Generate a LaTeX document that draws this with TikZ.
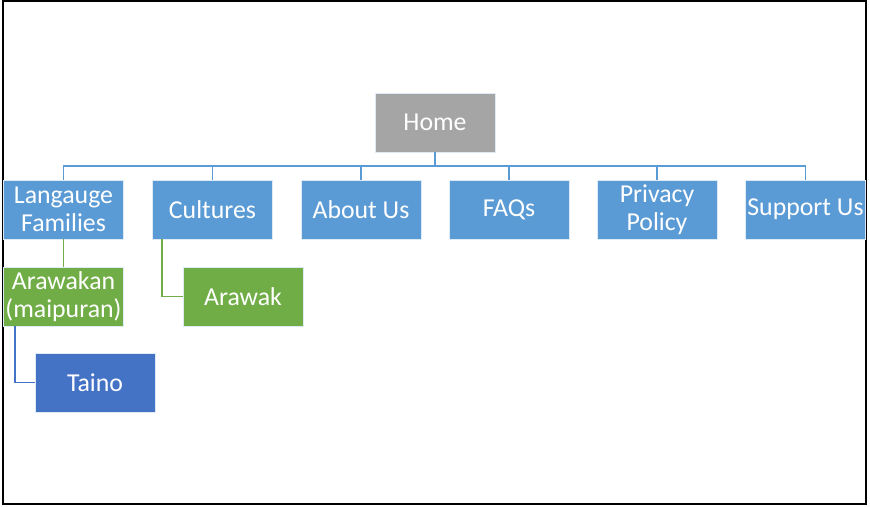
\documentclass[tikz,border=0pt]{standalone}
\usepackage{fontspec}
\setmainfont{Carlito}
\usepackage{tikz}
\usetikzlibrary{positioning, calc}
\usepackage{xcolor}
\definecolor{sitegray}{HTML}{A5A5A5}
\definecolor{siteblue}{HTML}{5B9BD5}
\definecolor{sitegreen}{HTML}{70AD47}
\definecolor{sitedark}{HTML}{4472C4}
\definecolor{sitewhite}{HTML}{FFFFFF}

\tikzset{
  page/.style={rectangle, draw=sitewhite!80!siteblue, line width=0.6pt,
               minimum width=120pt, minimum height=59pt, inner sep=0pt,
               align=center, text=sitewhite,
               font=\fontsize{25.8}{28}\selectfont},
  homepage/.style={page, fill=sitegray},
  toppage/.style={page, fill=siteblue},
  subpage/.style={page, fill=sitegreen},
  leafpage/.style={page, fill=sitedark},
  busline/.style={draw=siteblue, line width=1.6pt},
  subline/.style={draw=sitegreen, line width=1.6pt},
  leafline/.style={draw=sitedark, line width=1.6pt}
}

\begin{document}
\begin{tikzpicture}[x=1pt, y=-1pt]
      \useasboundingbox (0,0) rectangle (870,506);
      % Outer frame
      \draw[black, line width=2.2pt] (3,1) rectangle (866,504);
      % Root page
      \node[homepage] (home) at (435,122.5) {Home};
      % Top level pages
      \node[toppage] (lang) at (63.5,209.5) {Langauge\\Families};
      \node[toppage] (cultures) at (212.5,209.5) {Cultures};
      \node[toppage] (about) at (361,209.5) {About Us};
      \node[toppage] (faqs) at (509,209.5) {FAQs};
      \node[toppage] (privacy) at (657,209.5) {Privacy\\Policy};
      \node[toppage] (support) at (805.5,209.5) {Support Us};
      % Sub pages
      \node[subpage] (arawakan) at (63.5,296.5) {Arawakan\\(maipuran)};
      \node[subpage] (arawak) at (243,296.5) {Arawak};
      \node[leafpage] (taino) at (95,382.5) {Taino};
      % Connectors
      \coordinate (bus) at (435,166);
      \draw[busline] (home.south) -- (bus);
      \foreach \n in {lang, cultures, about, faqs, privacy, support}
        \draw[busline] (bus) -| (\n.north);
      \draw[subline] (lang.south) -- (arawakan.north);
      \draw[subline] ([xshift=10pt]cultures.south west) |- (arawak.west);
      \draw[leafline] ([xshift=12pt]arawakan.south west) |- (taino.west);
    \end{tikzpicture}
\end{document}
